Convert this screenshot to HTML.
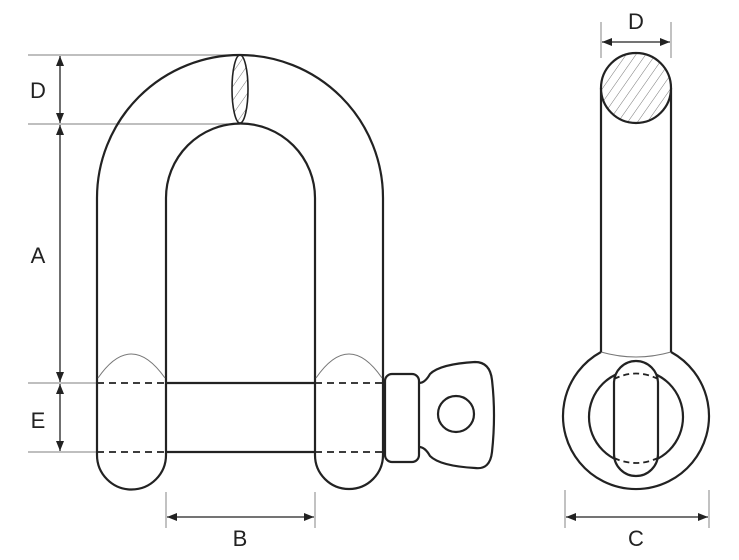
<!DOCTYPE html>
<html><head><style>body{margin:0;background:#fff}svg{display:block}</style></head><body>
<svg width="739" height="560" viewBox="0 0 739 560" xmlns="http://www.w3.org/2000/svg" font-family="Liberation Sans, sans-serif">
<defs>
<marker id="ar" viewBox="0 0 10 10" refX="10" refY="5" markerWidth="10" markerHeight="10" orient="auto-start-reverse" markerUnits="userSpaceOnUse"><path d="M0,1 L10,5 L0,9 z" fill="#222"/></marker>
<pattern id="h" width="8" height="8" patternUnits="userSpaceOnUse" patternTransform="rotate(35)"><line x1="0" y1="0" x2="0" y2="8" stroke="#555" stroke-width="0.8"/></pattern>
<clipPath id="cc"><circle cx="636" cy="88" r="35"/></clipPath>
</defs>
<g stroke="#999" stroke-width="1.2" fill="none">
<line x1="28" y1="55" x2="240" y2="55"/><line x1="28" y1="124" x2="240" y2="124"/>
<line x1="28" y1="383" x2="97" y2="383"/><line x1="28" y1="452" x2="97" y2="452"/>
<line x1="166" y1="492" x2="166" y2="528"/><line x1="315" y1="492" x2="315" y2="528"/>
<line x1="565" y1="490" x2="565" y2="528"/><line x1="709" y1="490" x2="709" y2="528"/>
<line x1="601" y1="22" x2="601" y2="58"/><line x1="671" y1="22" x2="671" y2="58"/>
</g>
<g stroke="#222" stroke-width="1.3" fill="none">
<line x1="60" y1="56" x2="60" y2="123" marker-start="url(#ar)" marker-end="url(#ar)"/>
<line x1="60" y1="125" x2="60" y2="382" marker-start="url(#ar)" marker-end="url(#ar)"/>
<line x1="60" y1="384" x2="60" y2="451" marker-start="url(#ar)" marker-end="url(#ar)"/>
<line x1="167" y1="517" x2="314" y2="517" marker-start="url(#ar)" marker-end="url(#ar)"/>
<line x1="566" y1="517" x2="708" y2="517" marker-start="url(#ar)" marker-end="url(#ar)"/>
<line x1="602" y1="42" x2="670" y2="42" marker-start="url(#ar)" marker-end="url(#ar)"/>
</g>
<g font-size="22" fill="#222" text-anchor="middle">
<text x="38" y="98">D</text><text x="38" y="263">A</text><text x="38" y="428">E</text>
<text x="240" y="546">B</text><text x="636" y="546">C</text><text x="636" y="29">D</text>
</g>
<g stroke="#222" stroke-width="2.2" fill="none">
<path d="M97,455 L97,198 A143,143 0 0 1 383,198 L383,455 A34,34 0 0 1 315,455 L315,198 A74.5,74.5 0 0 0 166,198 L166,455 A34.5,34.5 0 0 1 97,455 Z"/>
<line x1="166" y1="383" x2="315" y2="383"/><line x1="166" y1="452" x2="315" y2="452"/>
<rect x="385" y="374" width="34" height="88" rx="7"/>
<path d="M419,383 Q425,383 430,374 Q440,364 475,362 Q490,362 492,380 Q496,415 492,452 Q490,470 475,468 Q440,466 430,456 Q425,447 419,447"/>
<circle cx="456" cy="414" r="18"/>
</g>
<g stroke="#222" stroke-width="1.8" stroke-dasharray="7,5" fill="none">
<line x1="97" y1="383" x2="166" y2="383"/><line x1="97" y1="452" x2="166" y2="452"/>
<line x1="315" y1="383" x2="383" y2="383"/><line x1="315" y1="452" x2="383" y2="452"/>
</g>
<g stroke="#777" stroke-width="1" fill="none">
<path d="M98,378 Q131,330 165,378"/><path d="M316,378 Q349,330 382,378"/>
<path d="M601,352 Q636,362 671,352"/>
</g>
<ellipse cx="240" cy="89" rx="8" ry="34" fill="url(#h)" stroke="#222" stroke-width="1.6"/>
<g stroke="#222" stroke-width="2.2" fill="none">
<path d="M601,352 L601,88 M671,88 L671,352"/>
<path d="M601,352 A73,73 0 1 0 671,352"/>
<circle cx="636" cy="417" r="47"/>
<rect x="614" y="361" width="44" height="115" rx="22" fill="#fff"/>
</g>
<circle cx="636" cy="88" r="35" fill="#fff"/>
<rect x="600" y="52" width="72" height="72" fill="url(#h)" clip-path="url(#cc)"/>
<circle cx="636" cy="88" r="35" fill="none" stroke="#222" stroke-width="2.2"/>
<g stroke="#222" stroke-width="1.8" stroke-dasharray="6,4" fill="none">
<path d="M614,379 Q636,368 658,379"/><path d="M614,458 Q636,468 658,458"/>
</g>
</svg>
</body></html>
